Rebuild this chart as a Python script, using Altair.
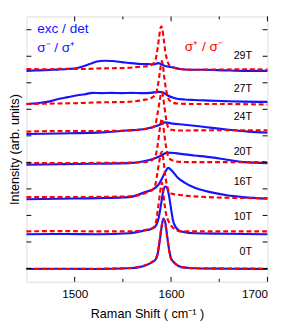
import altair as alt
import pandas as pd

# ---------------- data (Raman shift in cm^-1, intensity in arb. units, offset per field) -------------
fields = ["0T", "10T", "16T", "20T", "24T", "27T", "29T"]
label_y = [1.10, 2.45, 3.74, 4.87, 6.19, 7.25, 8.50]

# exc/det sigma-/sigma+ (blue, solid)
b0_x = [1450, 1490, 1524, 1557, 1567, 1574, 1580, 1584, 1586, 1588, 1590, 1592, 1594, 1596, 1598, 1600, 1604, 1611, 1624, 1660, 1700]
b0_y = [0.48, 0.49, 0.48, 0.51, 0.55, 0.62, 0.73, 0.84, 1.03, 1.47, 2.01, 2.38, 2.23, 1.72, 1.21, 0.88, 0.70, 0.55, 0.51, 0.49, 0.48]

b10_x = [1450, 1490, 1524, 1557, 1567, 1574, 1581, 1585, 1588, 1590, 1592, 1594, 1596, 1598, 1600, 1602, 1605, 1609, 1614, 1624, 1655, 1700]
b10_y = [1.79, 1.80, 1.79, 1.83, 1.89, 1.94, 2.01, 2.16, 2.56, 3.00, 3.44, 3.59, 3.52, 3.22, 2.75, 2.31, 2.05, 1.92, 1.87, 1.83, 1.81, 1.79]

b16_x = [1450, 1483, 1524, 1557, 1567, 1574, 1581, 1587, 1591, 1594, 1597, 1601, 1607, 1614, 1624, 1642, 1658, 1675, 1700]
b16_y = [3.11, 3.13, 3.15, 3.19, 3.30, 3.39, 3.48, 3.66, 3.92, 4.14, 4.29, 4.18, 3.92, 3.74, 3.55, 3.37, 3.26, 3.19, 3.13]

b20_x = [1450, 1483, 1524, 1557, 1574, 1581, 1589, 1596, 1604, 1614, 1624, 1642, 1658, 1675, 1700]
b20_y = [4.41, 4.43, 4.45, 4.47, 4.56, 4.63, 4.74, 4.87, 4.85, 4.80, 4.76, 4.69, 4.60, 4.51, 4.47]

b24_x = [1450, 1483, 1524, 1554, 1574, 1584, 1589, 1594, 1600, 1614, 1629, 1645, 1660, 1680, 1700]
b24_y = [5.57, 5.59, 5.62, 5.70, 5.77, 5.86, 5.93, 6.01, 5.97, 5.92, 5.86, 5.79, 5.73, 5.66, 5.62]

b27_x = [1450, 1463, 1473, 1483, 1493, 1503, 1511, 1518, 1528, 1538, 1549, 1559, 1569, 1579, 1587, 1591, 1596, 1604, 1614, 1624, 1639, 1655, 1675, 1700]
b27_y = [6.70, 6.74, 6.79, 6.89, 6.96, 7.03, 7.07, 7.12, 7.11, 7.12, 7.11, 7.12, 7.11, 7.12, 7.16, 7.14, 7.03, 6.92, 6.87, 6.85, 6.83, 6.81, 6.79, 6.78]

b29_x = [1450, 1463, 1478, 1493, 1503, 1513, 1518, 1523, 1531, 1539, 1549, 1559, 1569, 1576, 1582, 1587, 1590, 1594, 1602, 1609, 1619, 1634, 1655, 1675, 1700]
b29_y = [7.95, 7.97, 7.99, 8.02, 8.06, 8.17, 8.24, 8.30, 8.33, 8.32, 8.28, 8.24, 8.21, 8.21, 8.19, 8.24, 8.19, 8.13, 8.08, 8.02, 7.99, 7.99, 7.97, 7.95, 7.95]

# exc/det sigma+/sigma- (red, dashed)
r0_x = [1450, 1490, 1524, 1557, 1567, 1574, 1580, 1584, 1586, 1588, 1590, 1592, 1594, 1596, 1598, 1600, 1604, 1611, 1624, 1660, 1700]
r0_y = [0.49, 0.48, 0.49, 0.52, 0.56, 0.63, 0.74, 0.86, 1.06, 1.52, 2.05, 2.36, 2.18, 1.66, 1.17, 0.86, 0.69, 0.55, 0.51, 0.50, 0.49]

r10_x = [1450, 1483, 1524, 1557, 1574, 1581, 1584, 1586, 1588, 1589.5, 1590.5, 1591.5, 1593, 1595, 1597, 1600, 1604, 1609, 1650, 1700]
r10_y = [1.90, 1.91, 1.90, 1.90, 1.96, 2.03, 2.20, 2.64, 3.19, 3.59, 3.74, 3.55, 3.00, 2.53, 2.31, 2.12, 1.98, 1.90, 1.90, 1.90]

r16_x = [1450, 1483, 1524, 1557, 1574, 1581, 1584, 1586, 1588, 1589.5, 1590.5, 1591.5, 1593, 1595, 1597, 1600, 1607, 1624, 1655, 1700]
r16_y = [3.19, 3.19, 3.20, 3.22, 3.35, 3.48, 3.70, 4.14, 4.58, 4.84, 4.91, 4.76, 4.29, 3.77, 3.48, 3.33, 3.28, 3.22, 3.17, 3.15]

r20_x = [1450, 1483, 1524, 1557, 1574, 1581, 1584, 1586, 1588, 1589.5, 1590.5, 1591.5, 1593, 1595, 1597, 1600, 1609, 1624, 1660, 1700]
r20_y = [4.47, 4.47, 4.48, 4.49, 4.52, 4.60, 4.76, 5.13, 5.68, 6.04, 6.15, 6.01, 5.57, 5.05, 4.73, 4.60, 4.52, 4.51, 4.51, 4.51]

r24_x = [1450, 1483, 1524, 1554, 1571, 1581, 1584, 1586, 1588, 1589.5, 1590.5, 1591.5, 1593, 1595, 1597, 1600, 1609, 1640, 1670, 1700]
r24_y = [5.66, 5.68, 5.68, 5.70, 5.75, 5.82, 5.97, 6.34, 6.78, 7.07, 7.14, 7.03, 6.63, 6.12, 5.82, 5.73, 5.70, 5.71, 5.71, 5.71]

r27_x = [1450, 1483, 1500, 1524, 1540, 1554, 1571, 1579, 1584, 1586, 1588, 1589.5, 1590.5, 1591.5, 1593, 1595, 1597, 1600, 1606, 1624, 1655, 1700]
r27_y = [6.70, 6.72, 6.73, 6.76, 6.77, 6.78, 6.85, 6.92, 7.07, 7.33, 7.80, 8.17, 8.32, 8.17, 7.69, 7.22, 6.92, 6.78, 6.72, 6.70, 6.70, 6.68]

r29_x = [1450, 1470, 1490, 1510, 1523, 1540, 1554, 1569, 1576, 1581, 1584, 1586, 1587.5, 1589, 1590, 1591, 1592.5, 1594, 1596, 1598, 1602, 1609, 1624, 1640, 1655, 1675, 1700]
r29_y = [8.02, 8.01, 8.03, 8.02, 8.04, 8.05, 8.06, 8.11, 8.13, 8.21, 8.39, 8.79, 9.19, 9.56, 9.63, 9.52, 9.12, 8.68, 8.35, 8.17, 8.08, 8.02, 7.99, 8.00, 8.00, 8.01, 8.00]

x_major = [1500, 1600, 1700]
x_minor = [1550, 1650]
y_ticks = [0.5, 1.5, 2.5, 3.5, 4.5, 5.5, 6.5, 7.5, 8.5, 9.5]

# ---------------- build tables -------------
blue = [(b0_x, b0_y), (b10_x, b10_y), (b16_x, b16_y), (b20_x, b20_y), (b24_x, b24_y), (b27_x, b27_y), (b29_x, b29_y)]
red = [(r0_x, r0_y), (r10_x, r10_y), (r16_x, r16_y), (r20_x, r20_y), (r24_x, r24_y), (r27_x, r27_y), (r29_x, r29_y)]

def table(curves):
    rows = []
    for f, (xs, ys) in zip(fields, curves):
        for i, (xv, yv) in enumerate(zip(xs, ys)):
            rows.append({"field": f, "shift": xv, "I": yv, "o": i})
    return pd.DataFrame(rows)

df_b = table(blue)
df_r = table(red)
df_lab = pd.DataFrame({"field": fields, "ly": label_y, "lx": [1684] * len(fields)})

W, H = 248, 273
BLUE = "#1414ff"
RED = "#ff0000"
FONT = "Liberation Sans"

xscale = alt.Scale(domain=[1450, 1700], nice=False, zero=False)
yscale = alt.Scale(domain=[0, 10], nice=False, zero=False)

xenc = alt.X("shift:Q", scale=xscale,
             axis=alt.Axis(values=x_major, format="d", ticks=False, domain=False, grid=False, labelFontSize=12,
                           labelFont=FONT, labelColor="black", labelPadding=7,
                           title="Raman Shift  ( cm⁻¹ )", titleFont=FONT, titleFontSize=13,
                           titleFontWeight="normal", titleColor="black", titlePadding=9))
yenc = alt.Y("I:Q", scale=yscale,
             axis=alt.Axis(labels=False, ticks=False, domain=False, grid=False,
                           title="Intensity (arb. units)", titleFont=FONT, titleFontSize=13,
                           titleFontWeight="normal", titleColor="black", titlePadding=5))

blue_lines = alt.Chart(df_b).mark_line(color=BLUE, strokeWidth=2.2, interpolate="monotone").encode(
    x=xenc, y=yenc, detail="field:N", order="o:Q")
red_lines = alt.Chart(df_r).mark_line(color=RED, strokeWidth=2.2, strokeDash=[5, 3], interpolate="monotone").encode(
    x=alt.X("shift:Q", scale=xscale), y=alt.Y("I:Q", scale=yscale), detail="field:N", order="o:Q")

labels = alt.Chart(df_lab).mark_text(align="right", baseline="middle", font=FONT, fontSize=11, color="black").encode(
    x=alt.X("lx:Q", scale=xscale), y=alt.Y("ly:Q", scale=yscale), text="field:N")

# inward ticks
dmaj = pd.DataFrame({"t": x_major})
dmin = pd.DataFrame({"t": x_minor})
dy = pd.DataFrame({"t": y_ticks})
tk = dict(color="black", strokeWidth=1)
xt_maj_b = alt.Chart(dmaj).mark_rule(**tk).encode(x=alt.X("t:Q", scale=xscale), y=alt.value(H), y2=alt.value(H - 5))
xt_maj_t = alt.Chart(dmaj).mark_rule(**tk).encode(x=alt.X("t:Q", scale=xscale), y=alt.value(0), y2=alt.value(5))
xt_min_b = alt.Chart(dmin).mark_rule(**tk).encode(x=alt.X("t:Q", scale=xscale), y=alt.value(H), y2=alt.value(H - 3))
xt_min_t = alt.Chart(dmin).mark_rule(**tk).encode(x=alt.X("t:Q", scale=xscale), y=alt.value(0), y2=alt.value(3))
yt_l = alt.Chart(dy).mark_rule(**tk).encode(y=alt.Y("t:Q", scale=yscale), x=alt.value(0), x2=alt.value(5))
yt_r = alt.Chart(dy).mark_rule(**tk).encode(y=alt.Y("t:Q", scale=yscale), x=alt.value(W), x2=alt.value(W - 5))

one = pd.DataFrame({"a": [0]})
t1 = alt.Chart(one).mark_text(text="exc / det", align="left", baseline="middle", font=FONT, fontSize=14, color=BLUE).encode(
    x=alt.value(11), y=alt.value(13))
t2 = alt.Chart(one).mark_text(text="σ⁻ / σ⁺", align="left", baseline="middle", font=FONT, fontSize=14, color=BLUE).encode(
    x=alt.value(11), y=alt.value(33))
t3 = alt.Chart(one).mark_text(text="σ⁺ / σ⁻", align="left", baseline="middle", font=FONT, fontSize=14, color=RED).encode(
    x=alt.value(163), y=alt.value(32))

chart = alt.layer(blue_lines, red_lines, labels, xt_maj_b, xt_maj_t, xt_min_b, xt_min_t, yt_l, yt_r, t1, t2, t3).properties(
    width=W, height=H, autosize=alt.AutoSizeParams(type="none"),
    padding={"left": 19, "top": 4, "right": 16, "bottom": 47},
).configure_view(stroke="black", strokeWidth=1).configure(background="white")

chart.save("out.html", embed_options={"renderer": "svg", "actions": False})
